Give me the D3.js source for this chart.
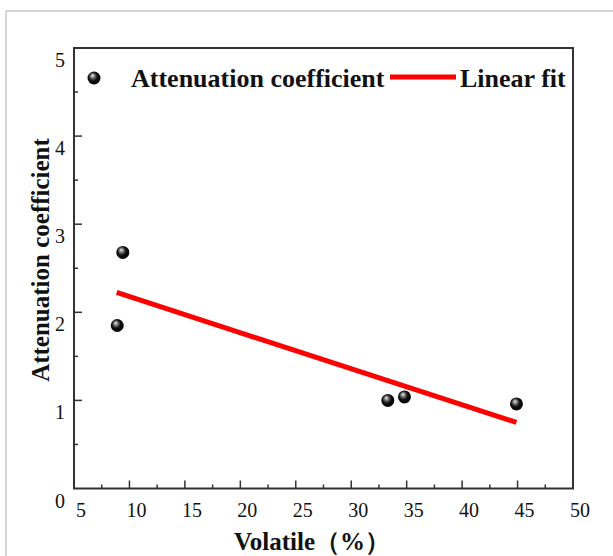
<!DOCTYPE html>
<html>
<head>
<meta charset="utf-8">
<script src="https://cdn.jsdelivr.net/npm/d3@7"></script>
<style>
  body { margin: 0; background: #fff; }
  svg text { font-family: "Liberation Serif", "Times New Roman", serif; }
</style>
</head>
<body>
<div id="chart"></div>
<script>
width = 613;
height = 556;

margin = { top: 48, right: 40, bottom: 67, left: 74 };

//////// Data ////////
const volatile = [9.4, 8.9, 33.3, 34.8, 44.9];
const attenuation = [2.68, 1.85, 1.00, 1.04, 0.96];
const fitVolatile = [8.85, 44.9];
const fitAttenuation = [2.225, 0.75];
const xTicks = [5, 10, 15, 20, 25, 30, 35, 40, 45, 50];
const yTicks = [0, 1, 2, 3, 4, 5];
const legendLabels = ['Attenuation coefficient', 'Linear fit'];

const points = volatile.map((v, i) => ({ x: v, y: attenuation[i] }));
const fit = fitVolatile.map((v, i) => ({ x: v, y: fitAttenuation[i] }));

//////// Scales ////////
const xScale = d3.scaleLinear().domain([5, 50]).range([margin.left, width - margin.right]);
const yScale = d3.scaleLinear().domain([0, 5]).range([height - margin.bottom - 0.5, margin.top]);

const svg = d3.select('#chart').append('svg')
    .attr('width', width)
    .attr('height', height);

// glossy ball gradient
const defs = svg.append('defs');
const grad = defs.append('radialGradient').attr('id', 'ball')
    .attr('cx', '45%').attr('cy', '45%').attr('r', '60%')
    .attr('fx', '38%').attr('fy', '30%');
grad.append('stop').attr('offset', '0%').attr('stop-color', '#ffffff');
grad.append('stop').attr('offset', '18%').attr('stop-color', '#9a9a9a');
grad.append('stop').attr('offset', '55%').attr('stop-color', '#111');
grad.append('stop').attr('offset', '100%').attr('stop-color', '#000');

// outer light frame
svg.append('rect')
    .attr('x', 6).attr('y', 11)
    .attr('width', 700).attr('height', 700)
    .attr('fill', 'none')
    .attr('stroke', '#c8c8c8')
    .attr('stroke-width', 1.5);

//////// Axes ////////
const x0 = xScale(5), x1 = xScale(50), y0 = yScale(0), y1 = yScale(5);

// minor ticks
const xMinor = d3.range(7.5, 50, 5);
const yMinor = d3.range(0.5, 5, 1);

svg.append('g').selectAll('line')
    .data(xTicks.filter(d => d > 5 && d < 50))
    .join('line')
    .attr('x1', d => xScale(d)).attr('x2', d => xScale(d))
    .attr('y1', y0).attr('y2', y0 - 8)
    .attr('stroke', '#333').attr('stroke-width', 1.5);
svg.append('g').selectAll('line')
    .data(xMinor)
    .join('line')
    .attr('x1', d => xScale(d)).attr('x2', d => xScale(d))
    .attr('y1', y0).attr('y2', y0 - 4)
    .attr('stroke', '#333').attr('stroke-width', 1.5);
svg.append('g').selectAll('line')
    .data(yTicks.filter(d => d > 0 && d < 5))
    .join('line')
    .attr('x1', x0).attr('x2', x0 + 8)
    .attr('y1', d => yScale(d)).attr('y2', d => yScale(d))
    .attr('stroke', '#333').attr('stroke-width', 1.5);
svg.append('g').selectAll('line')
    .data(yMinor)
    .join('line')
    .attr('x1', x0).attr('x2', x0 + 4)
    .attr('y1', d => yScale(d)).attr('y2', d => yScale(d))
    .attr('stroke', '#333').attr('stroke-width', 1.5);

// frame
svg.append('rect')
    .attr('x', x0).attr('y', y1)
    .attr('width', x1 - x0).attr('height', y0 - y1)
    .attr('fill', 'none')
    .attr('stroke', '#333')
    .attr('stroke-width', 2);

// tick labels
svg.append('g').selectAll('text')
    .data(xTicks)
    .join('text')
    .attr('x', d => xScale(d) + 7)
    .attr('y', y0 + 28)
    .attr('text-anchor', 'middle')
    .attr('font-size', 20)
    .attr('fill', '#111')
    .text(d => d);

svg.append('g').selectAll('text')
    .data(yTicks)
    .join('text')
    .attr('x', x0 - 9)
    .attr('y', d => yScale(d) + 19)
    .attr('text-anchor', 'end')
    .attr('font-size', 20)
    .attr('fill', '#111')
    .text(d => d);

// axis titles
svg.append('text')
    .attr('x', 312).attr('y', 550)
    .attr('text-anchor', 'middle')
    .attr('font-size', 25)
    .attr('font-weight', 'bold')
    .attr('fill', '#111')
    .text('Volatile（%）');

svg.append('text')
    .attr('transform', 'translate(49,260) rotate(-90)')
    .attr('text-anchor', 'middle')
    .attr('font-size', 25)
    .attr('font-weight', 'bold')
    .attr('fill', '#111')
    .text('Attenuation coefficient');

//////// Fit line ////////
const line = d3.line().x(d => xScale(d.x)).y(d => yScale(d.y));
svg.append('path')
    .datum(fit)
    .attr('d', line)
    .attr('fill', 'none')
    .attr('stroke', '#ff0000')
    .attr('stroke-width', 5);

//////// Points ////////
svg.append('g').selectAll('circle')
    .data(points)
    .join('circle')
    .attr('cx', d => xScale(d.x))
    .attr('cy', d => yScale(d.y))
    .attr('r', 6.5)
    .attr('fill', 'url(#ball)');

//////// Legend ////////
const legend = svg.append('g');
legend.append('circle')
    .attr('cx', 94).attr('cy', 78).attr('r', 6.5)
    .attr('fill', 'url(#ball)');
legend.append('text')
    .attr('x', 131).attr('y', 87)
    .attr('font-size', 26)
    .attr('font-weight', 'bold')
    .attr('fill', '#111')
    .text(legendLabels[0]);
legend.append('line')
    .attr('x1', 390).attr('x2', 456)
    .attr('y1', 77).attr('y2', 77)
    .attr('stroke', '#ff0000')
    .attr('stroke-width', 5);
legend.append('text')
    .attr('x', 460).attr('y', 87)
    .attr('font-size', 26)
    .attr('font-weight', 'bold')
    .attr('fill', '#111')
    .text(legendLabels[1]);
</script>
</body>
</html>
